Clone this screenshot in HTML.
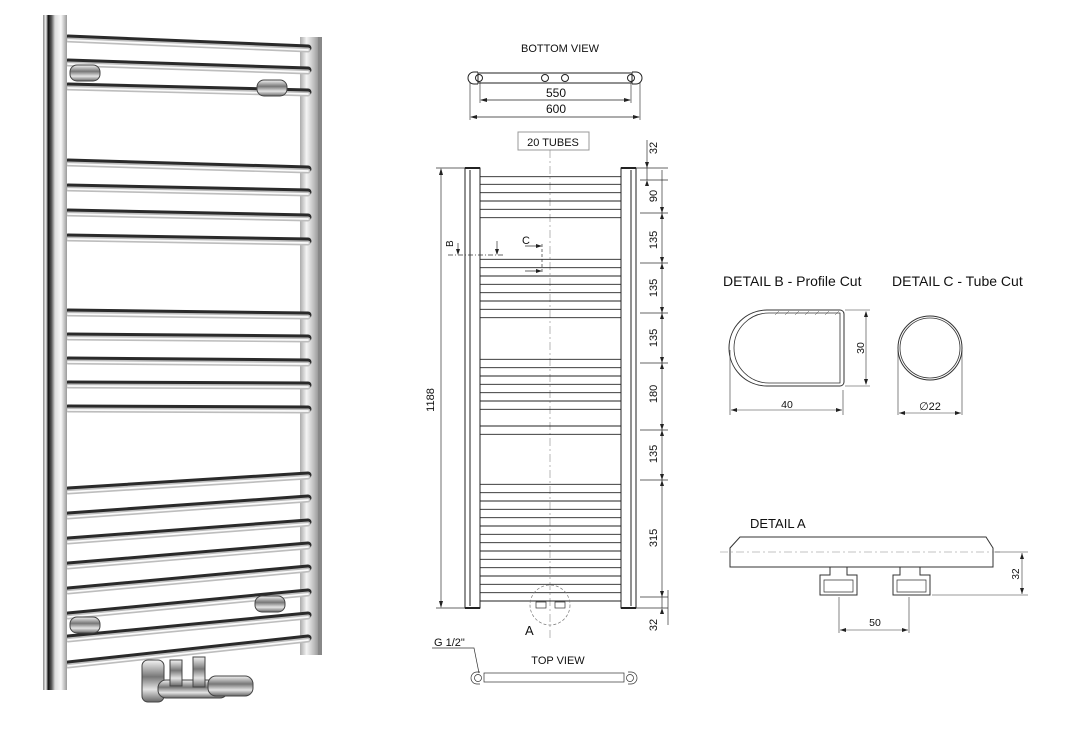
<!DOCTYPE html>
<html><head><meta charset="utf-8"><style>
html,body{margin:0;padding:0;background:#fff}
svg{display:block}
text{font-family:"Liberation Sans",sans-serif;fill:#111}
</style></head><body>
<svg width="1071" height="730" viewBox="0 0 1071 730" xmlns="http://www.w3.org/2000/svg">
<defs>
<linearGradient id="bar" x1="0" x2="1" y1="0" y2="0">
<stop offset="0" stop-color="#888"/><stop offset="0.12" stop-color="#f2f2f2"/><stop offset="0.22" stop-color="#111"/><stop offset="0.35" stop-color="#555"/><stop offset="0.5" stop-color="#ddd"/><stop offset="0.75" stop-color="#f8f8f8"/><stop offset="1" stop-color="#999"/>
</linearGradient>
<linearGradient id="bar2" x1="0" x2="1" y1="0" y2="0">
<stop offset="0" stop-color="#aaa"/><stop offset="0.3" stop-color="#f4f4f4"/><stop offset="0.65" stop-color="#bbb"/><stop offset="1" stop-color="#777"/>
</linearGradient>
<linearGradient id="valve" x1="0" x2="0" y1="0" y2="1">
<stop offset="0" stop-color="#f4f4f4"/><stop offset="0.4" stop-color="#777"/><stop offset="0.7" stop-color="#e4e4e4"/><stop offset="1" stop-color="#666"/>
</linearGradient>
</defs>

<!-- PHOTO -->
<rect x="300" y="37" width="22" height="618" fill="url(#bar2)"/>
<g stroke-linecap="round" fill="none">
<g stroke="#2a2a2a" stroke-width="7">
<line x1="68" y1="38" x2="308" y2="48"/><line x1="68" y1="62" x2="308" y2="70"/><line x1="68" y1="86" x2="308" y2="92"/>
<line x1="68" y1="162" x2="308" y2="169"/><line x1="68" y1="187" x2="308" y2="192"/><line x1="68" y1="212" x2="308" y2="217"/><line x1="68" y1="237" x2="308" y2="241"/>
<line x1="68" y1="312" x2="308" y2="315"/><line x1="68" y1="336" x2="308" y2="338"/><line x1="68" y1="360" x2="308" y2="362"/><line x1="68" y1="384" x2="308" y2="385"/><line x1="68" y1="408" x2="308" y2="409"/>
<line x1="68" y1="490" x2="308" y2="475"/><line x1="68" y1="515" x2="308" y2="498"/><line x1="68" y1="540" x2="308" y2="522"/><line x1="68" y1="565" x2="308" y2="545"/><line x1="68" y1="590" x2="308" y2="568"/><line x1="68" y1="615" x2="308" y2="592"/><line x1="68" y1="638" x2="308" y2="615"/><line x1="68" y1="664" x2="308" y2="638"/>
</g>
<g stroke="#bdbdbd" stroke-width="5" transform="translate(0,2)">
<line x1="68" y1="38" x2="308" y2="48"/><line x1="68" y1="62" x2="308" y2="70"/><line x1="68" y1="86" x2="308" y2="92"/>
<line x1="68" y1="162" x2="308" y2="169"/><line x1="68" y1="187" x2="308" y2="192"/><line x1="68" y1="212" x2="308" y2="217"/><line x1="68" y1="237" x2="308" y2="241"/>
<line x1="68" y1="312" x2="308" y2="315"/><line x1="68" y1="336" x2="308" y2="338"/><line x1="68" y1="360" x2="308" y2="362"/><line x1="68" y1="384" x2="308" y2="385"/><line x1="68" y1="408" x2="308" y2="409"/>
<line x1="68" y1="490" x2="308" y2="475"/><line x1="68" y1="515" x2="308" y2="498"/><line x1="68" y1="540" x2="308" y2="522"/><line x1="68" y1="565" x2="308" y2="545"/><line x1="68" y1="590" x2="308" y2="568"/><line x1="68" y1="615" x2="308" y2="592"/><line x1="68" y1="638" x2="308" y2="615"/><line x1="68" y1="664" x2="308" y2="638"/>
</g>
<g stroke="#fafafa" stroke-width="1.8" transform="translate(0,2)">
<line x1="68" y1="38" x2="308" y2="48"/><line x1="68" y1="62" x2="308" y2="70"/><line x1="68" y1="86" x2="308" y2="92"/>
<line x1="68" y1="162" x2="308" y2="169"/><line x1="68" y1="187" x2="308" y2="192"/><line x1="68" y1="212" x2="308" y2="217"/><line x1="68" y1="237" x2="308" y2="241"/>
<line x1="68" y1="312" x2="308" y2="315"/><line x1="68" y1="336" x2="308" y2="338"/><line x1="68" y1="360" x2="308" y2="362"/><line x1="68" y1="384" x2="308" y2="385"/><line x1="68" y1="408" x2="308" y2="409"/>
<line x1="68" y1="490" x2="308" y2="475"/><line x1="68" y1="515" x2="308" y2="498"/><line x1="68" y1="540" x2="308" y2="522"/><line x1="68" y1="565" x2="308" y2="545"/><line x1="68" y1="590" x2="308" y2="568"/><line x1="68" y1="615" x2="308" y2="592"/><line x1="68" y1="638" x2="308" y2="615"/><line x1="68" y1="664" x2="308" y2="638"/>
</g>
</g>
<rect x="43" y="15" width="24" height="675" fill="url(#bar)"/>
<rect x="318" y="37" width="4" height="618" fill="#888"/>
<!-- wall brackets -->
<g fill="url(#valve)" stroke="#444" stroke-width="1">
<rect x="70" y="65" width="30" height="16" rx="7"/><rect x="257" y="80" width="30" height="16" rx="7"/>
<rect x="255" y="596" width="30" height="16" rx="7"/><rect x="70" y="617" width="30" height="16" rx="7"/>
</g>
<!-- valve -->
<g stroke="#444" stroke-width="1">
<rect x="142" y="660" width="22" height="42" rx="6" fill="url(#valve)"/>
<rect x="158" y="680" width="70" height="18" rx="8" fill="url(#valve)"/>
<rect x="208" y="676" width="45" height="20" rx="8" fill="url(#valve)"/>
<rect x="170" y="660" width="12" height="26" fill="url(#valve)"/>
<rect x="193" y="657" width="12" height="30" fill="url(#valve)"/>
</g>

<!-- MAIN DRAWING -->
<g stroke="#222" fill="none" stroke-width="1">
<rect x="478" y="73" width="154" height="10" />
<path d="M478 72 h-4 a6 6 0 0 0 0 12 h4" /><path d="M632 72 h4 a6 6 0 0 1 0 12 h-4"/>
<circle cx="479" cy="78" r="3.5"/><circle cx="631" cy="78" r="3.5"/>
<circle cx="545" cy="78" r="3.5"/><circle cx="565" cy="78" r="3.5"/>
<path d="M480 82 V103 M631 82 V103 M470 82 V120 M640 82 V120" stroke-width="0.6"/>
<path d="M481 100 H630 M471 117 H639" stroke-width="0.8"/>
<rect x="518" y="132" width="71" height="18" stroke="#999"/>
<path d="M465 168 V608 H480 V168 Z M470 170 V606"/>
<path d="M621 168 V608 H636 V168 Z M631 170 V606"/>
<path d="M465 168 H480 M621 168 H636 M465 608 H480 M621 608 H636" stroke-width="2"/>
<path d="M550 150 V640" stroke="#888" stroke-width="0.6" stroke-dasharray="8 3 2 3"/>
</g>
<g stroke="#222" stroke-width="0.9">
<path d="M480 176.7H621M480 184.3H621M480 192.7H621M480 201H621M480 209.3H621M480 217.7H621"/>
<path d="M480 259.3H621M480 267.7H621M480 276H621M480 284.3H621M480 292.7H621M480 301H621M480 309.3H621M480 317.7H621"/>
<path d="M480 359.3H621M480 367.7H621M480 376H621M480 384.3H621M480 392.7H621M480 401H621M480 409.3H621M480 426H621M480 434.3H621"/>
<path d="M480 484.3H621M480 492.7H621M480 501H621M480 509.3H621M480 517.7H621M480 526H621M480 534.3H621M480 542.7H621M480 551H621M480 559.3H621M480 567.7H621M480 576H621M480 584.3H621M480 592.7H621M480 601H621"/>
</g>
<g stroke="#333" stroke-width="0.7" fill="none">
<path d="M441 170 V606 M436 168 H465 M436 608 H465"/>
<path d="M647 140 V180 M662 170 V608"/>
<path d="M636 168 H668 M640 180 H668 M640 213 H668 M640 263 H668 M640 313 H668 M640 363 H668 M640 430 H668 M640 480 H668 M640 597 H668 M636 608 H668 M668 590 V625"/>
<path d="M448 255 H503" stroke-dasharray="5 2 1 2"/>
<path d="M458 243 V254 M497 241 V254"/>
<path d="M542 244 V274" stroke-dasharray="3 2"/>
<path d="M525 246 H541 M525 271 H541"/>
<circle cx="550" cy="605" r="20" stroke="#777" stroke-dasharray="3 2"/>
<rect x="536" y="602" width="10" height="6"/><rect x="555" y="602" width="10" height="6"/>
<path d="M432 648 H474 L479 673"/>
<rect x="484" y="673" width="140" height="9"/>
<circle cx="478" cy="678" r="3.5"/><circle cx="630" cy="678" r="3.5"/>
<path d="M480 672 h-3 a6 6 0 0 0 0 12 h3"/><path d="M628 672 h3 a6 6 0 0 1 0 12 h-3"/>
</g>
<g fill="#222">
<path d="M441 168 l-2 7 h4z M441 608 l-2 -7 h4z"/>
<path d="M647 168 l-2 -6 h4z M647 180 l-2 6 h4z"/>
<path d="M662 213 l-2 -6 h4z M662 213 l-2 6 h4z M662 263 l-2 -6 h4z M662 263 l-2 6 h4z M662 313 l-2 -6 h4z M662 313 l-2 6 h4z M662 363 l-2 -6 h4z M662 363 l-2 6 h4z M662 430 l-2 -6 h4z M662 430 l-2 6 h4z M662 480 l-2 -6 h4z M662 480 l-2 6 h4z M662 597 l-2 -6 h4z M662 608 l-2 6 h4z"/>
<path d="M480 100 l7 -2 v4z M631 100 l-7 -2 v4z M470 117 l7 -2 v4z M640 117 l-7 -2 v4z"/>
<path d="M458 255 l-2 -6 h4z M497 255 l-2 -6 h4z M542 246 l-6 -2 v4z M542 271 l-6 -2 v4z"/>
</g>
<g font-size="11">
<text x="560" y="52" text-anchor="middle" font-size="11">BOTTOM VIEW</text>
<text x="556" y="97" text-anchor="middle" font-size="12">550</text>
<text x="556" y="113" text-anchor="middle" font-size="12">600</text>
<text x="553" y="146" text-anchor="middle">20 TUBES</text>
<text x="558" y="664" text-anchor="middle" font-size="11">TOP VIEW</text>
<text x="434" y="646" font-size="11">G 1/2"</text>
<text x="525" y="635" font-size="13">A</text>
<text x="522" y="244" font-size="11">C</text>
<text transform="translate(453,247) rotate(-90)" font-size="10">B</text>
<text transform="translate(434,400) rotate(-90)" text-anchor="middle" font-size="11">1188</text>
<text transform="translate(657,148) rotate(-90)" text-anchor="middle">32</text>
<text transform="translate(657,196) rotate(-90)" text-anchor="middle">90</text>
<text transform="translate(657,240) rotate(-90)" text-anchor="middle">135</text>
<text transform="translate(657,288) rotate(-90)" text-anchor="middle">135</text>
<text transform="translate(657,338) rotate(-90)" text-anchor="middle">135</text>
<text transform="translate(657,394) rotate(-90)" text-anchor="middle">180</text>
<text transform="translate(657,454) rotate(-90)" text-anchor="middle">135</text>
<text transform="translate(657,538) rotate(-90)" text-anchor="middle">315</text>
<text transform="translate(657,625) rotate(-90)" text-anchor="middle">32</text>
</g>

<text x="723" y="286" font-size="14">DETAIL B - Profile Cut</text>
<text x="892" y="286" font-size="14">DETAIL C - Tube Cut</text>
<g stroke="#333" fill="none" stroke-width="1">
<path d="M767 310 H840 a4 4 0 0 1 4 4 V382 a4 4 0 0 1 -4 4 H767 A37.5 37.5 0 0 1 767 310 Z"/>
<path d="M769 313 H840 V383 H769 A35 35 0 0 1 769 313 Z" stroke-width="0.8"/>
<circle cx="930" cy="348" r="32"/><circle cx="930" cy="348" r="30" stroke-width="0.8"/>
<path d="M845 310 H870 M845 386 H870 M866 312 V384" stroke-width="0.6"/>
<path d="M730 350 V415 M843 390 V415 M731 410 H842" stroke-width="0.6"/>
<path d="M898 350 V415 M962 350 V415 M899 413 H961" stroke-width="0.6"/>
</g>
<g stroke="#555" stroke-width="0.5"><path d="M775 315 l4 -4 M785 315 l4 -4 M795 315 l4 -4 M805 315 l4 -4 M815 315 l4 -4 M825 315 l4 -4 M835 315 l4 -4"/></g>
<g fill="#222"><path d="M731 410 l6 -2 v4z M842 410 l-6 -2 v4z M899 413 l6 -2 v4z M961 413 l-6 -2 v4z M866 311 l-2 6 h4z M866 385 l-2 -6 h4z"/></g>
<text x="787" y="408" font-size="10.5" text-anchor="middle">40</text>
<text transform="translate(864,348) rotate(-90)" font-size="10.5" text-anchor="middle">30</text>
<text x="930" y="410" font-size="11" text-anchor="middle">∅22</text>

<text x="750" y="528" font-size="13">DETAIL  A</text>
<g stroke="#333" fill="none" stroke-width="1">
<path d="M730 567 V548 L740 537 H986 L993 548 V567 Z"/>
<path d="M720 552 H1000" stroke="#888" stroke-width="0.6" stroke-dasharray="8 3 2 3"/>
<path d="M830 567 V575 H820 V595 H857 V575 H847 V567"/>
<path d="M824 580 H853 V592 H824 Z" stroke-width="0.7"/>
<path d="M900 567 V575 H893 V595 H930 V575 H920 V567"/>
<path d="M897 580 H926 V592 H897 Z" stroke-width="0.7"/>
<path d="M995 552 H1028 M932 595 H1028 M1022 553 V594 M839 597 V633 M909 597 V633 M840 630 H908" stroke-width="0.6"/>
</g>
<g fill="#222"><path d="M1022 553 l-2 6 h4z M1022 594 l-2 -6 h4z M840 630 l6 -2 v4z M908 630 l-6 -2 v4z"/></g>
<text transform="translate(1019,574) rotate(-90)" font-size="10" text-anchor="middle">32</text>
<text x="875" y="626" font-size="10.5" text-anchor="middle">50</text>
</svg>
</body></html>
